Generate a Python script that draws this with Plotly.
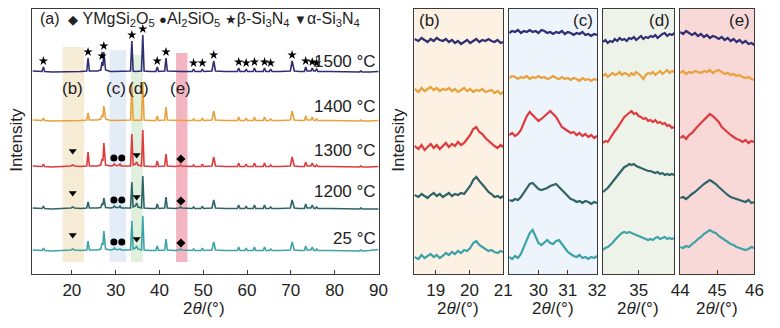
import plotly.graph_objects as go

W, H = 780, 328

# ---------------- main panel data ----------------
main_x = [11.0, 12.5, 13.2, 13.5, 13.8, 15.5, 17.5,
          19.8, 20.2, 20.6, 22.0,
          23.4, 23.7, 24.0, 25.8,
          26.6, 26.9, 27.1, 27.3, 27.7, 28.8,
          29.4, 29.7, 30.0, 30.7, 31.0, 31.3, 32.8,
          33.4, 33.7, 34.0, 34.5, 34.8, 35.1, 35.9, 36.2, 36.5, 38.0,
          39.2, 39.5, 39.8, 41.2, 41.5, 41.8, 43.5,
          44.5, 44.8, 45.1, 47.0,
          47.5, 47.8, 48.1, 49.5, 49.8, 50.1, 52.0, 52.4, 52.8, 55.0,
          57.8, 58.1, 58.4, 59.5, 59.8, 60.1, 61.4, 61.7, 62.0,
          63.7, 64.0, 64.3, 65.1, 65.4, 65.7, 67.5,
          69.9, 70.3, 70.8, 72.0,
          73.1, 73.4, 73.7, 74.6, 74.9, 75.2, 75.6, 75.9, 76.2, 79.0,
          82.0, 85.7, 86.0, 86.3, 88.0, 90.0]

int_1500 = [1, 0.5, 0.5, 5, 0.5, 0, 0,
            0, 0, 0, 0.5,
            1, 14, 1, 1,
            2, 10, 6, 20, 2, 0.5,
            0.5, 0.5, 0.5, 0.5, 0.5, 0.5, 0.5,
            1, 31, 1, 0.5, 0.5, 0.5, 1, 37, 1, 0.5,
            0.5, 5, 0.5, 1, 14, 1, 0.5,
            0.5, 0.5, 0.5, 0.5,
            0.5, 3, 0.5, 0.5, 3, 0.5, 1, 11, 1, 0.5,
            0.5, 4, 0.5, 0.5, 3, 0.5, 0.5, 4, 0.5,
            0.5, 4, 0.5, 0.5, 3, 0.5, 0.5,
            1, 11, 1, 0.5,
            0.5, 5, 1, 1, 4, 1, 1, 3, 0.5, 0.5,
            0, 0, 1, 0, 0, 0.5]

int_1400 = [1, 0.5, 0.5, 3, 0.5, 0, 0,
            0.5, 0.5, 0.5, 0.5,
            1, 8, 1, 1,
            2, 6, 4, 15, 2, 0.5,
            0.5, 1, 0.5, 0.5, 1, 0.5, 0.5,
            1, 37, 1, 0.5, 1, 0.5, 1, 39, 1, 0.5,
            0.5, 5, 0.5, 1, 14, 1, 0.5,
            0.5, 0.5, 0.5, 0.5,
            0.5, 2, 0.5, 0.5, 3, 0.5, 1, 10, 1, 0.5,
            0.5, 4, 0.5, 0.5, 3, 0.5, 0.5, 4, 0.5,
            0.5, 4, 0.5, 0.5, 2, 0.5, 0.5,
            1, 10, 1, 0.5,
            0.5, 5, 1, 1, 4, 1, 0.5, 2, 0.5, 0.5,
            0, 0, 1, 0, 0, 0.5]

int_1300 = [1, 0.5, 0.5, 3, 0.5, 0, 0.5,
            1, 2, 1, 0.5,
            1, 15, 1, 1,
            2, 8, 6, 24, 2, 1,
            1.5, 3, 1.5, 1.5, 3, 1, 0.5,
            1, 33, 2, 3, 5, 2, 1, 37, 1, 0.5,
            0.5, 6, 0.5, 1, 13, 1, 0.5,
            1, 2, 1, 0.5,
            0.5, 2, 0.5, 0.5, 3, 0.5, 1, 10, 1, 0.5,
            0.5, 4, 0.5, 0.5, 3, 0.5, 0.5, 4, 0.5,
            0.5, 4, 0.5, 0.5, 2, 0.5, 0.5,
            1, 10, 1, 0.5,
            0.5, 5, 1, 1, 4, 1, 0.5, 2, 0.5, 0.5,
            0, 0, 1, 0, 0, 0.5]

int_1200 = [1, 0.5, 0.5, 3, 0.5, 0, 0.5,
            1, 2, 1, 0.5,
            1, 7, 1, 1,
            1.5, 5, 4, 11, 1.5, 1,
            1.5, 3, 1.5, 1.5, 3, 1, 0.5,
            1, 27, 2, 3, 6, 2, 1, 33, 1, 0.5,
            0.5, 5, 0.5, 1, 12, 1, 0.5,
            1, 2, 1, 0.5,
            0.5, 2, 0.5, 0.5, 3, 0.5, 1, 9, 1, 0.5,
            0.5, 4, 0.5, 0.5, 3, 0.5, 0.5, 4, 0.5,
            0.5, 4, 0.5, 0.5, 2, 0.5, 0.5,
            1, 9, 1, 0.5,
            0.5, 5, 1, 1, 4, 1, 0.5, 2, 0.5, 0.5,
            0, 0, 1, 0, 0, 0]

int_25 = [1, 0.5, 0.5, 3, 0.5, 0, 0.5,
          1, 2, 1, 0.5,
          1, 10, 1, 1,
          2, 8, 6, 20, 2, 1,
          1.5, 3, 1.5, 1.5, 2, 1, 0.5,
          1, 30, 2, 3, 5, 2, 1, 35, 1, 0.5,
          0.5, 5, 0.5, 1, 12, 1, 0.5,
          1, 2, 1, 0.5,
          0.5, 2, 0.5, 0.5, 3, 0.5, 1, 9, 1, 0.5,
          0.5, 4, 0.5, 0.5, 3, 0.5, 0.5, 4, 0.5,
          0.5, 4, 0.5, 0.5, 2, 0.5, 0.5,
          1, 9, 1, 0.5,
          0.5, 5, 1, 1, 4, 1, 0.5, 2, 0.5, 0.5,
          0, 0, 1, 0, 0.5, 1.5]

series_names = ["1500 °C", "1400 °C", "1300 °C", "1200 °C", "25 °C"]

# phase marker positions (2theta)
beta_peaks = [13.5, 23.7, 26.9, 27.3, 33.7, 36.2, 39.5, 41.5, 47.8, 49.8, 52.4,
              58.1, 59.8, 61.7, 64.0, 65.4, 70.3, 73.4, 74.9, 75.9]
alpha_peaks = [20.2, 34.8]
al2sio5_peaks = [29.6, 31.4]
ymgsi2o5_peaks = [44.9]

# ---------------- detail panels data ----------------
b_x = [18.37, 18.49, 18.58, 18.67, 18.76, 18.85, 18.94, 19.03, 19.12, 19.21,
       19.30, 19.39, 19.48, 19.57, 19.66, 19.75, 19.84, 19.93, 20.02, 20.11,
       20.20, 20.29, 20.38, 20.47, 20.56, 20.65, 20.74, 20.83, 20.92, 21.00]
b_1500 = [235, 233, 236, 234, 232, 235, 233, 236, 234, 233, 235, 232, 234, 231, 233,
          230, 232, 234, 231, 233, 235, 232, 234, 233, 235, 233, 232, 234, 231, 232]
b_1400 = [185, 182, 186, 183, 185, 187, 184, 186, 183, 185, 184, 186, 183, 185, 182,
          184, 186, 183, 185, 182, 184, 183, 185, 182, 183, 184, 181, 183, 180, 182]
b_1300 = [128, 125, 129, 124, 127, 130, 126, 129, 125, 128, 131, 127, 130, 128, 132,
          129, 131, 135, 139, 145, 147, 142, 140, 136, 133, 131, 128, 126, 129, 127]
b_1200 = [79, 77, 80, 78, 76, 79, 81, 78, 80, 77, 79, 81, 78, 80, 79,
          81, 80, 84, 88, 94, 97, 93, 90, 86, 82, 80, 77, 78, 76, 78]
b_25 = [17, 15, 19, 16, 18, 20, 17, 19, 16, 18, 21, 19, 22, 20, 23,
        21, 24, 23, 26, 31, 33, 29, 27, 25, 23, 24, 22, 21, 23, 22]

c_x = [29.0, 29.1, 29.2, 29.3, 29.4, 29.5, 29.6, 29.7, 29.8, 29.9, 30.0,
       30.1, 30.2, 30.3, 30.4, 30.5, 30.6, 30.7, 30.8, 30.9, 31.0,
       31.1, 31.2, 31.3, 31.4, 31.5, 31.6, 31.7, 31.8, 31.9, 32.0]
c_1500 = [241, 243, 242, 244, 241, 243, 242, 244, 242, 243, 241, 244, 243, 241, 242, 240,
          242, 241, 243, 240, 242, 241, 239, 241, 240, 242, 239, 240, 238, 240, 239]
c_1400 = [196, 198, 197, 195, 197, 196, 198, 195, 197, 196, 198, 196, 197, 195, 196, 198,
          196, 195, 197, 195, 196, 194, 196, 195, 193, 196, 194, 195, 193, 195, 194]
c_1300 = [139, 141, 138, 140, 144, 152, 158, 162, 159, 156, 153, 155, 158, 161, 163, 160,
          157, 152, 147, 145, 143, 141, 142, 139, 141, 138, 140, 137, 139, 136, 138]
c_1200 = [74, 73, 75, 74, 77, 81, 86, 90, 91, 88, 85, 84, 85, 86, 88, 89,
          90, 87, 84, 80, 77, 75, 74, 72, 73, 71, 73, 72, 70, 72, 71]
c_25 = [17, 15, 18, 16, 20, 27, 35, 41, 44, 38, 31, 29, 32, 34, 31, 30,
        33, 34, 30, 26, 22, 20, 18, 17, 19, 16, 17, 15, 17, 16, 18]

d_x = [33.5, 33.6, 33.7, 33.8, 33.9, 34.0, 34.1, 34.2, 34.3, 34.4, 34.5,
       34.6, 34.7, 34.8, 34.9, 35.0, 35.1, 35.2, 35.3, 35.4, 35.5,
       35.6, 35.7, 35.8, 35.9, 36.0, 36.1, 36.2, 36.3, 36.4, 36.5]
d_1500 = [232, 234, 231, 233, 232, 235, 233, 236, 234, 235, 233, 236, 235, 237, 234, 236,
          238, 235, 237, 236, 238, 237, 239, 236, 238, 240, 241, 238, 240, 239, 241]
d_1400 = [198, 200, 197, 199, 201, 199, 200, 202, 199, 201, 200, 198, 201, 199, 202, 200,
          198, 195, 199, 201, 200, 202, 199, 201, 203, 200, 202, 204, 201, 203, 202]
d_1300 = [131, 133, 132, 136, 139, 143, 146, 150, 153, 157, 159, 161, 163, 160, 161, 158,
          157, 155, 156, 153, 154, 152, 154, 151, 152, 150, 151, 148, 149, 146, 147]
d_1200 = [82, 84, 86, 89, 92, 96, 99, 102, 105, 107, 108, 110, 109, 110, 108, 107,
          106, 105, 104, 103, 103, 102, 101, 102, 100, 101, 99, 100, 99, 100, 99]
d_25 = [24, 26, 27, 29, 31, 34, 37, 39, 41, 42, 41, 42, 41, 40, 39, 38,
        37, 36, 35, 34, 35, 34, 36, 37, 35, 36, 37, 35, 36, 35, 36]

e_x = [44.00, 44.08, 44.16, 44.24, 44.32, 44.40, 44.48, 44.56, 44.64, 44.72, 44.80,
       44.88, 44.96, 45.04, 45.12, 45.20, 45.28, 45.36, 45.44, 45.52, 45.60,
       45.68, 45.76, 45.84, 45.92, 46.00]
e_1500 = [242, 240, 243, 241, 239, 241, 238, 240, 237, 239, 236, 238, 237,
          235, 237, 234, 236, 233, 235, 232, 234, 231, 233, 230, 231, 229]
e_1400 = [201, 203, 200, 202, 201, 203, 202, 201, 203, 202, 204, 201, 203,
          204, 202, 200, 201, 199, 200, 198, 199, 197, 196, 197, 195, 194]
e_1300 = [136, 138, 135, 139, 141, 145, 148, 151, 154, 157, 160, 158, 155,
          152, 147, 144, 141, 139, 137, 135, 134, 132, 134, 131, 133, 132]
e_1200 = [76, 77, 75, 78, 80, 82, 85, 88, 90, 92, 94, 92, 90,
          87, 84, 81, 79, 77, 76, 75, 74, 73, 72, 74, 71, 72]
e_25 = [27, 26, 28, 27, 30, 32, 35, 37, 40, 42, 44, 42, 41,
        38, 36, 34, 32, 30, 29, 27, 26, 25, 24, 25, 27, 26]

# ---------------- styling ----------------
colors = ["#2f2e72", "#e9a23b", "#df3b3e", "#2e6468", "#3ea3a9"]
offsets = [202, 153, 107, 65, 23]     # vertical stacking of main patterns
FONT = "Liberation Sans, Arial, sans-serif"
AX = "#3a3a3a"
FS = 17

def px_x(p):
    return p / W

def px_y(p):
    return 1 - p / H

fig = go.Figure()

# main patterns
main_ints = [int_1500, int_1400, int_1300, int_1200, int_25]
for name, col, off, ints in zip(series_names, colors, offsets, main_ints):
    fig.add_trace(go.Scatter(x=main_x, y=[off + v for v in ints], mode="lines",
                             line=dict(color=col, width=1.6), name=name,
                             xaxis="x", yaxis="y", hoverinfo="skip"))

# star markers on 1500
star_y = [offsets[0] + int_1500[main_x.index(p)] + 6 for p in beta_peaks]
fig.add_trace(go.Scatter(x=beta_peaks, y=star_y, mode="markers",
                         marker=dict(symbol="star", size=7, color="black"),
                         xaxis="x", yaxis="y", hoverinfo="skip"))
for off in offsets[2:]:
    fig.add_trace(go.Scatter(x=[alpha_peaks[0]], y=[off + 16], mode="markers",
                             marker=dict(symbol="triangle-down", size=7, color="black"),
                             xaxis="x", yaxis="y", hoverinfo="skip"))
    fig.add_trace(go.Scatter(x=[alpha_peaks[1]], y=[off + 12], mode="markers",
                             marker=dict(symbol="triangle-down", size=7, color="black"),
                             xaxis="x", yaxis="y", hoverinfo="skip"))
    fig.add_trace(go.Scatter(x=al2sio5_peaks, y=[off + 9] * len(al2sio5_peaks), mode="markers",
                             marker=dict(symbol="circle", size=7, color="black"),
                             xaxis="x", yaxis="y", hoverinfo="skip"))
    fig.add_trace(go.Scatter(x=ymgsi2o5_peaks, y=[off + 8], mode="markers",
                             marker=dict(symbol="diamond", size=7, color="black"),
                             xaxis="x", yaxis="y", hoverinfo="skip"))

# detail panels
panels = [
    ("x2", "y2", b_x, [b_1500, b_1400, b_1300, b_1200, b_25]),
    ("x3", "y3", c_x, [c_1500, c_1400, c_1300, c_1200, c_25]),
    ("x4", "y4", d_x, [d_1500, d_1400, d_1300, d_1200, d_25]),
    ("x5", "y5", e_x, [e_1500, e_1400, e_1300, e_1200, e_25]),
]
for xa, ya, xs, ys_list in panels:
    for col, ys in zip(colors, ys_list):
        fig.add_trace(go.Scatter(x=xs, y=ys, mode="lines", line=dict(color=col, width=2.2),
                                 xaxis=xa, yaxis=ya, hoverinfo="skip"))

# ---------------- layout ----------------
main_dom = [px_x(24), px_x(379)]
ydom = [px_y(274), px_y(9)]
pan_doms = [(415, 506), (512, 602), (608, 681), (687, 763)]
pan_ranges = [[18.37, 21.0], [29.0, 32.0], [33.5, 36.5], [44.0, 46.0]]
pan_ticks = [[19, 20, 21], [30, 31, 32], [35], [44, 45, 46]]
pan_bg = ["#fdf1e4", "#eef4fb", "#eef3e9", "#f9d8d8"]

axis_common = dict(showline=True, linecolor=AX, linewidth=1.2, mirror=True,
                   showgrid=False, zeroline=False)
layout = dict(
    width=W, height=H, margin=dict(l=0, r=0, t=0, b=0),
    paper_bgcolor="white", plot_bgcolor="rgba(0,0,0,0)", showlegend=False,
    font=dict(family=FONT, size=FS, color="#222"),
    xaxis=dict(domain=main_dom, range=[11, 90.2], tickvals=[20, 30, 40, 50, 60, 70, 80, 90],
               ticks="inside", ticklen=4, tickcolor=AX, anchor="y",
               tickfont=dict(size=FS), **axis_common),
    yaxis=dict(domain=ydom, range=[0, 265], showticklabels=False, ticks="", anchor="x",
               **axis_common),
)
for i, ((a, b), rng, tv) in enumerate(zip(pan_doms, pan_ranges, pan_ticks)):
    n = i + 2
    layout[f"xaxis{n}"] = dict(domain=[px_x(a), px_x(b)], range=rng, tickvals=tv,
                               ticks="inside", ticklen=4, tickcolor=AX, anchor=f"y{n}",
                               tickfont=dict(size=FS), **axis_common)
    layout[f"yaxis{n}"] = dict(domain=ydom, range=[0, 265], showticklabels=False, ticks="",
                               anchor=f"x{n}", **axis_common)
fig.update_layout(**layout)

shapes = []
# panel backgrounds
for i, bg in enumerate(pan_bg):
    n = i + 2
    shapes.append(dict(type="rect", xref=f"x{n} domain", yref=f"y{n} domain",
                       x0=0, x1=1, y0=0, y1=1, fillcolor=bg, line=dict(width=0), layer="below"))
# highlight bands in main panel
bands = [(17.9, 22.8, 227, "#f4e6c9"), (28.6, 32.4, 224, "#dde7f6"),
         (33.5, 36.2, 219, "#d9ecd4"), (43.8, 46.4, 221, "#f0a3b1")]
for x0, x1, top, colr in bands:
    shapes.append(dict(type="rect", xref="x", yref="y", x0=x0, x1=x1, y0=12, y1=top,
                       fillcolor=colr, line=dict(width=0), layer="below", opacity=0.8))
fig.update_layout(shapes=shapes)

ann = []
# header legend
sym = lambda s: f"<span style='font-size:13px'>{s}</span>"
header = ("(a)  " + sym("◆") + " YMgSi<sub>2</sub>O<sub>5</sub> " + sym("●") + "Al<sub>2</sub>SiO<sub>5</sub> "
          + sym("★") + "β-Si<sub>3</sub>N<sub>4</sub> " + sym("▼") + "α-Si<sub>3</sub>N<sub>4</sub>")
ann.append(dict(text=header, xref="paper", yref="paper", x=px_x(30), y=px_y(19),
                xanchor="left", yanchor="middle", showarrow=False, font=dict(size=16)))
# temperature labels
temp_y = [61, 106, 150, 191, 238]
for name, ty in zip(series_names, temp_y):
    ann.append(dict(text=name, xref="paper", yref="paper", x=px_x(378), y=px_y(ty),
                    xanchor="right", yanchor="middle", showarrow=False, font=dict(size=FS)))
# band labels
for lab, xp in [("(b)", 65), ("(c)", 110), ("(d)", 133), ("(e)", 176)]:
    ann.append(dict(text=lab, xref="paper", yref="paper", x=px_x(xp), y=px_y(88),
                    xanchor="center", yanchor="middle", showarrow=False, font=dict(size=FS)))
# panel labels
ann.append(dict(text="(b)", xref="paper", yref="paper", x=px_x(418), y=px_y(20),
                xanchor="left", yanchor="middle", showarrow=False, font=dict(size=FS)))
for lab, xr in [("(c)", 600), ("(d)", 679), ("(e)", 761)]:
    ann.append(dict(text=lab, xref="paper", yref="paper", x=px_x(xr), y=px_y(20),
                    xanchor="right", yanchor="middle", showarrow=False, font=dict(size=FS)))
# axis titles
xt = "2<i>θ</i>/(°)"
for cx in [200, 460, 557, 644, 725]:
    ann.append(dict(text=xt, xref="paper", yref="paper", x=px_x(cx), y=px_y(308),
                    xanchor="center", yanchor="middle", showarrow=False, font=dict(size=FS)))
for cx in [8, 399]:
    ann.append(dict(text="Intensity", xref="paper", yref="paper", x=px_x(cx), y=px_y(140),
                    xanchor="center", yanchor="middle", textangle=-90, showarrow=False,
                    font=dict(size=FS)))
fig.update_layout(annotations=ann)

fig.write_html("out.html")
